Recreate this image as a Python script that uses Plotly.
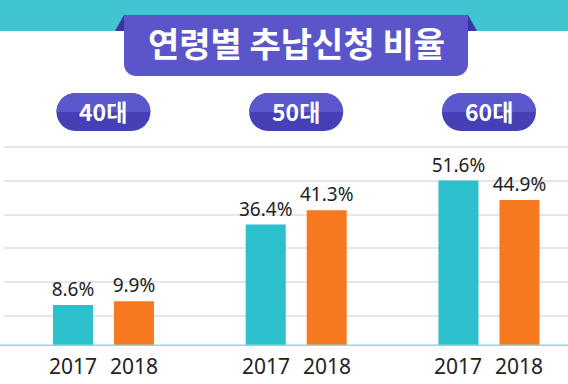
import plotly.graph_objects as go

# ---- data ----
groups = ["40대", "50대", "60대"]
years = ["2017", "2018"]
rate_2017 = [8.6, 36.4, 51.6]
rate_2018 = [9.9, 41.3, 44.9]
title_text = "연령별 추납신청 비율"

# ---- style ----
W, H = 568, 384
ML, MR, MT, MB = 4, 0, 0, 38
PW, PH = W - ML - MR, H - MT - MB
TEAL = "#2cc0cd"
ORANGE = "#f6791f"
BAND = "#40c4cf"
PURPLE = "#5a55c9"
PURPLE_DARK = "#3b33a8"
PILL_TOP = "#5b57cd"
PILL_BOT = "#4540b6"
TXT = "#222222"
KFONT = "Noto Sans CJK KR"
NFONT = "Noto Sans"
CJK_FIX = 0.88               # vertical correction for CJK annotation metrics

PX_PER_UNIT = 2.891          # vertical scale (px per %)
Y_FLOOR = -5.62              # axis floor (bars start here)
Y_TOP = Y_FLOOR + PH / PX_PER_UNIT
X_LEFT = -0.516
X_RIGHT = X_LEFT + PW / 192.75
BARGAP = 0.367
BARGROUPGAP = 0.344

grid_vals = [Y_FLOOR + (30.3 + 33.7 * j) / PX_PER_UNIT for j in range(6)]


def py2paper(py):
    return (H - MB - py) / PH


def px2paper(px):
    return (px - ML) / PW


fig = go.Figure()
for yr, vals, col in [(years[0], rate_2017, TEAL), (years[1], rate_2018, ORANGE)]:
    fig.add_trace(go.Bar(
        x=groups, y=[v - Y_FLOOR for v in vals], base=Y_FLOOR, name=yr,
        marker=dict(color=col, line=dict(width=0)),
        text=[f"{v}%" for v in vals], textposition="outside",
        textfont=dict(family=NFONT, size=19, color=TXT),
        constraintext="none", cliponaxis=False, hoverinfo="skip",
    ))

shapes = []
annotations = []

# top teal band
shapes.append(dict(type="rect", xref="paper", yref="paper",
                   x0=px2paper(0), x1=px2paper(W), y0=py2paper(31), y1=py2paper(-2),
                   fillcolor=BAND, line=dict(width=0), layer="below"))

# title ribbon
tcx, tcy = px2paper(296), py2paper(15)
box = ("M -172,0 L 172,0 L 172,-49 C 172,-55.6 166.6,-61 160,-61 "
       "L -160,-61 C -166.6,-61 -172,-55.6 -172,-49 Z")
for path, col in [("M -172,0 L -181,-16 L -172,-16 Z", PURPLE_DARK),
                  ("M 172,0 L 181,-16 L 172,-16 Z", PURPLE_DARK),
                  (box, PURPLE)]:
    shapes.append(dict(type="path", xref="paper", yref="paper",
                       xsizemode="pixel", ysizemode="pixel",
                       xanchor=tcx, yanchor=tcy, path=path,
                       fillcolor=col, line=dict(width=0)))
TSIZE = 34
annotations.append(dict(x=tcx, y=py2paper(46), xref="paper", yref="paper",
                        text=title_text, showarrow=False, yshift=CJK_FIX * TSIZE,
                        font=dict(family=KFONT, size=TSIZE, color="white", weight="bold")))

# group pills
full_pill = ("M -28,-19 L 28,-19 C 38.49,-19 47,-10.49 47,0 C 47,10.49 38.49,19 28,19 "
             "L -28,19 C -38.49,19 -47,10.49 -47,0 C -47,-10.49 -38.49,-19 -28,-19 Z")
top_pill = "M -47,0 C -47,10.49 -38.49,19 -28,19 L 28,19 C 38.49,19 47,10.49 47,0 Z"
pill_y = py2paper(112)
PSIZE = 23
for i, g in enumerate(groups):
    for path, col in [(full_pill, PILL_BOT), (top_pill, PILL_TOP)]:
        shapes.append(dict(type="path", xref="x", yref="paper",
                           xsizemode="pixel", ysizemode="pixel",
                           xanchor=i, yanchor=pill_y, path=path,
                           fillcolor=col, line=dict(width=0)))
    annotations.append(dict(x=i, y=pill_y, xref="x", yref="paper", text=g,
                            showarrow=False, yshift=CJK_FIX * PSIZE,
                            font=dict(family=KFONT, size=PSIZE, color="white", weight="bold")))
    # year labels under each bar
    for j, yr in enumerate(years):
        annotations.append(dict(x=i + (j - 0.5) * (1 - BARGAP) / 2, y=0,
                                xref="x", yref="paper", yshift=-20, text=yr,
                                showarrow=False, yanchor="middle",
                                font=dict(family=NFONT, size=21, color=TXT)))

fig.update_layout(
    width=W, height=H, margin=dict(l=ML, r=MR, t=MT, b=MB),
    paper_bgcolor="white", plot_bgcolor="white",
    barmode="group", bargap=BARGAP, bargroupgap=BARGROUPGAP,
    showlegend=False, shapes=shapes, annotations=annotations,
    xaxis=dict(range=[X_LEFT, X_RIGHT], showticklabels=False, showgrid=False,
               zeroline=False, showline=False, fixedrange=True),
    yaxis=dict(range=[Y_FLOOR, Y_TOP], tickvals=grid_vals, showticklabels=False,
               showgrid=True, gridcolor="#e6e6e6", gridwidth=1.5,
               zeroline=False, showline=False, fixedrange=True),
)
# baseline
fig.add_shape(type="line", xref="paper", yref="y", x0=px2paper(0), x1=1,
              y0=Y_FLOOR, y1=Y_FLOOR, line=dict(color="#80dde4", width=3))

fig.write_html("out.html", config={"displayModeBar": False},
               post_script="document.body.style.margin='0';document.body.style.overflow='hidden';")
